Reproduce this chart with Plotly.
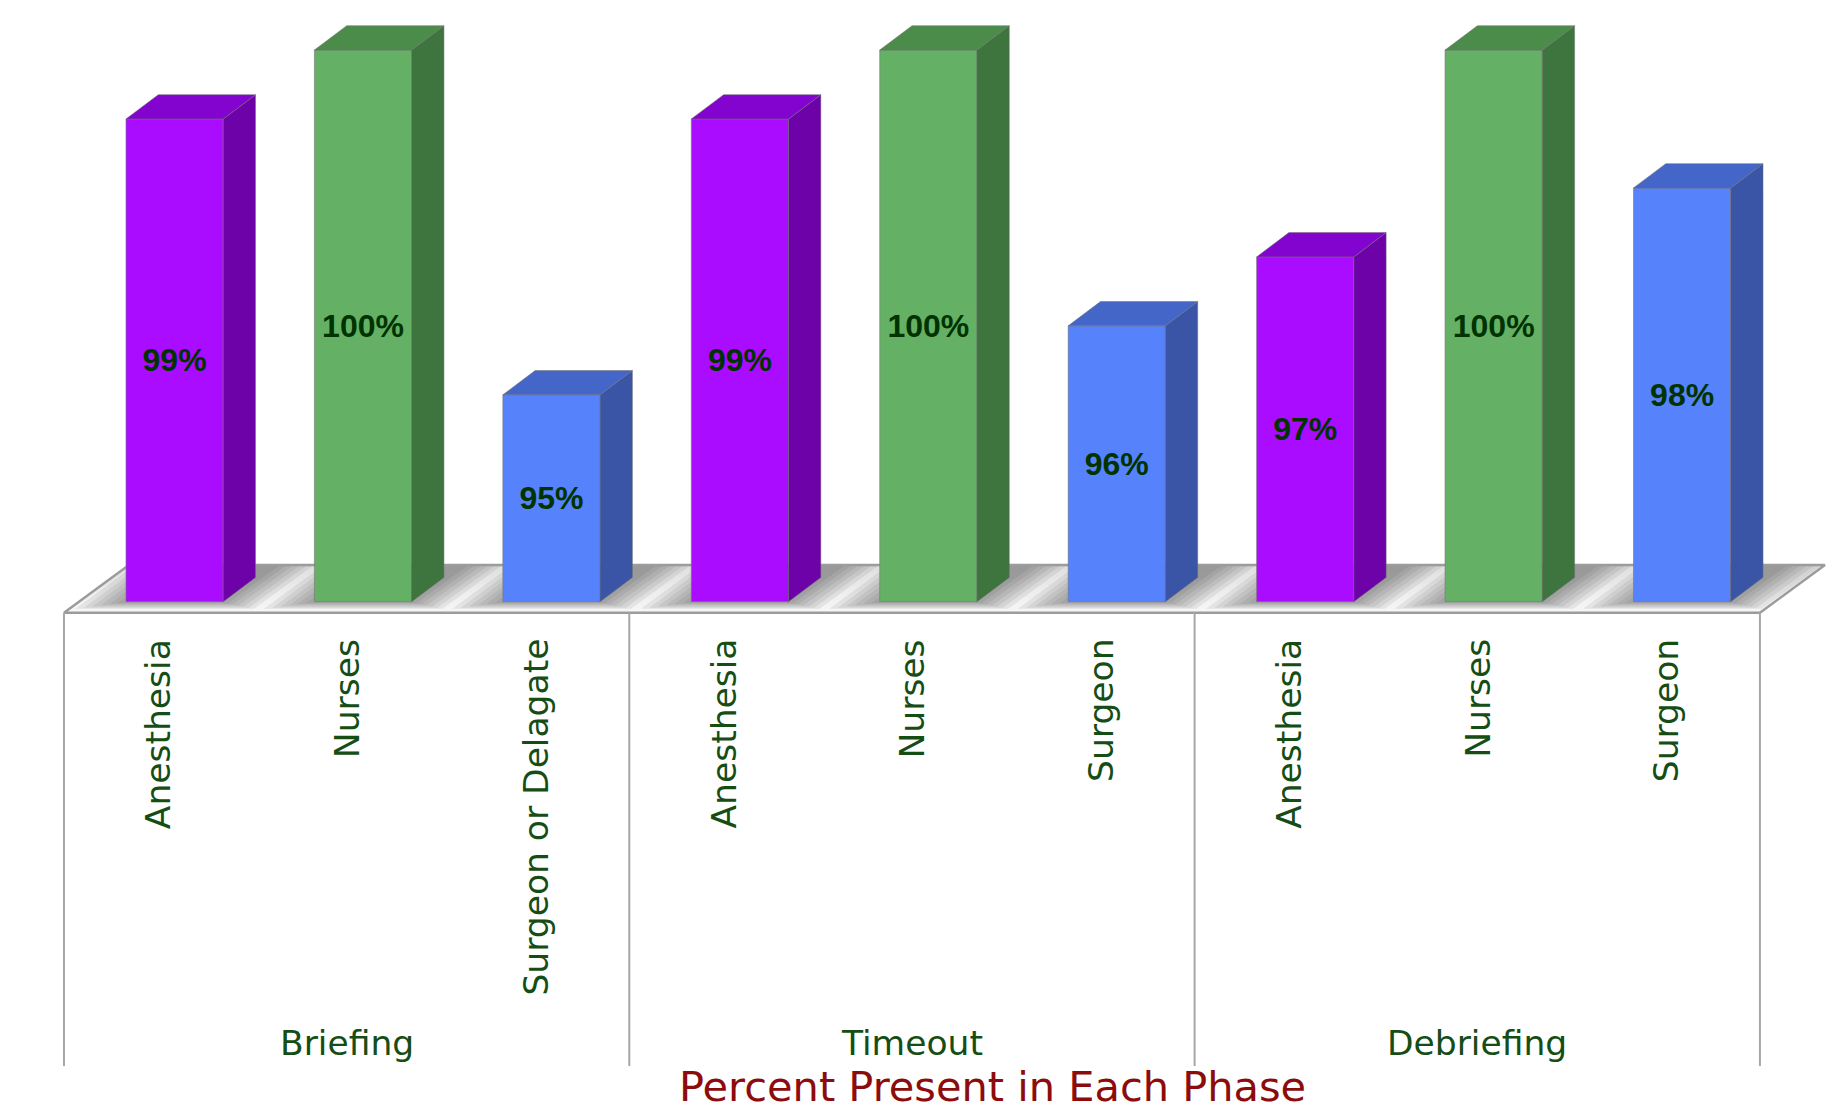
import plotly.graph_objects as go

# ---------------- data ----------------
phases = ["Briefing", "Timeout", "Debriefing"]
roles = ["Anesthesia", "Nurses", "Surgeon or Delagate",
         "Anesthesia", "Nurses", "Surgeon",
         "Anesthesia", "Nurses", "Surgeon"]
percent_present = [99, 100, 95, 99, 100, 96, 97, 100, 98]
axis_min = 92          # value where the bars start (floor of the 3D chart)
x_title = "Percent Present in Each Phase"

# ---------------- style ----------------
role_kind = ["anes", "nurse", "surg"] * 3
FRONT = {"anes": "#a90cff", "nurse": "#64b064", "surg": "#5682fc"}
TOP = {"anes": "#8303cf", "nurse": "#4b8c4b", "surg": "#4466c9"}
SIDE = {"anes": "#6d02a8", "nurse": "#3e743e", "surg": "#3a55a6"}
LABEL_GREEN = "#154d15"
VALUE_GREEN = "#003300"
TITLE_RED = "#8c0c0c"
EDGE = "#9c9c9c"

BAR_OFF, BAR_W = -0.171, 0.516     # bar front face relative to category centre
DX, DY = 0.1714, 0.3524            # 3D depth offset (x units, y units)
FLOOR_FRONT, FLOOR_BACK, FLOOR_DX = 91.8405, 92.532, 0.345

n = len(roles)
xs = list(range(n))
fig = go.Figure()


def floor_pt(u, t):
    """point on the floor: u = x at the front edge, t = depth 0 (front)..1 (back)"""
    return u + t * FLOOR_DX, FLOOR_FRONT + t * (FLOOR_BACK - FLOOR_FRONT)


# floor fill
x0, x1 = -0.5, n - 0.5
fig.add_trace(go.Scatter(
    x=[x0, x1, x1 + FLOOR_DX, x0 + FLOOR_DX, x0],
    y=[FLOOR_FRONT, FLOOR_FRONT, FLOOR_BACK, FLOOR_BACK, FLOOR_FRONT],
    mode="lines", fill="toself",
    fillgradient=dict(type="vertical", start=FLOOR_FRONT, stop=FLOOR_BACK,
                      colorscale=[[0, "#f7f7f7"], [0.4, "#eeeeee"], [1, "#dedede"]]),
    line=dict(width=0), hoverinfo="skip", zorder=0))

# soft shadows around each bar footprint
t0 = (axis_min - FLOOR_FRONT) / (FLOOR_BACK - FLOOR_FRONT)
for i in range(n):
    ul = xs[i] + BAR_OFF - t0 * FLOOR_DX
    ur = ul + BAR_W
    for k in range(1, 7):
        e = 0.036 * k
        ts = max(0.0, t0 - 0.025 * k)
        pts = [floor_pt(ul - e, ts), floor_pt(ur + e, ts),
               floor_pt(ur + e, 1.0), floor_pt(ul - e, 1.0), floor_pt(ul - e, ts)]
        fig.add_trace(go.Scatter(
            x=[p[0] for p in pts], y=[p[1] for p in pts],
            mode="lines", fill="toself", fillcolor="rgba(60,60,60,0.085)",
            line=dict(width=0), hoverinfo="skip", zorder=0))

# floor outline
fig.add_trace(go.Scatter(
    x=[x0, x1, x1 + FLOOR_DX, x0 + FLOOR_DX, x0],
    y=[FLOOR_FRONT, FLOOR_FRONT, FLOOR_BACK, FLOOR_BACK, FLOOR_FRONT],
    mode="lines", line=dict(color=EDGE, width=2.5), hoverinfo="skip", zorder=0))

# group divider lines below the floor
div_x, div_y = [], []
for g in range(len(phases) + 1):
    xv = -0.5 + 3 * g
    div_x += [xv, xv, None]
    div_y += [FLOOR_FRONT, 85.267, None]
fig.add_trace(go.Scatter(x=div_x, y=div_y, mode="lines",
                         line=dict(color="#a6a6a6", width=2),
                         hoverinfo="skip", zorder=0))

# front faces
fig.add_trace(go.Bar(
    x=xs, y=[v - axis_min for v in percent_present], base=axis_min,
    width=BAR_W, offset=BAR_OFF,
    marker=dict(color=[FRONT[k] for k in role_kind],
                line=dict(color="rgba(120,120,120,0.6)", width=1)),
    text=[f"{v}%" for v in percent_present], textposition="inside",
    insidetextanchor="middle", textangle=0,
    textfont=dict(family="Liberation Sans, Arial", size=32, color=VALUE_GREEN,
                  weight="bold"),
    hoverinfo="skip", zorder=1, cliponaxis=False))

# side and top faces
for i, v in enumerate(percent_present):
    k = role_kind[i]
    xl = xs[i] + BAR_OFF
    xr = xl + BAR_W
    fig.add_trace(go.Scatter(
        x=[xr, xr + DX, xr + DX, xr, xr],
        y=[axis_min, axis_min + DY, v + DY, v, axis_min],
        mode="lines", fill="toself", fillcolor=SIDE[k],
        line=dict(color="rgba(110,110,110,0.5)", width=1),
        hoverinfo="skip", zorder=2))
    fig.add_trace(go.Scatter(
        x=[xl, xr, xr + DX, xl + DX, xl],
        y=[v, v, v + DY, v + DY, v],
        mode="lines", fill="toself", fillcolor=TOP[k],
        line=dict(color="rgba(110,110,110,0.5)", width=1),
        hoverinfo="skip", zorder=2))

annotations = []
for i, r in enumerate(roles):
    annotations.append(dict(
        x=xs[i], y=91.488, xref="x", yref="y", text=r, showarrow=False,
        textangle=-90, xanchor="center", yanchor="top",
        font=dict(family="DejaVu Sans", size=34.5, color=LABEL_GREEN)))
for g, p in enumerate(phases):
    annotations.append(dict(
        x=3 * g + 1, y=85.606, xref="x", yref="y", text=p, showarrow=False,
        xanchor="center", yanchor="middle",
        font=dict(family="DejaVu Sans", size=34.5, color=LABEL_GREEN)))
annotations.append(dict(
    x=4.427, y=84.97, xref="x", yref="y", text=x_title, showarrow=False,
    xanchor="center", yanchor="middle",
    font=dict(family="DejaVu Sans", size=41.5, color=TITLE_RED)))

fig.update_layout(
    width=1843, height=1111,
    margin=dict(l=0, r=0, t=0, b=0),
    paper_bgcolor="white", plot_bgcolor="white",
    showlegend=False,
    xaxis=dict(range=[-0.8395, 8.9408], visible=False, fixedrange=True),
    yaxis=dict(range=[84.6146, 100.7254], visible=False, fixedrange=True),
    annotations=annotations,
)

fig.write_html("out.html")
